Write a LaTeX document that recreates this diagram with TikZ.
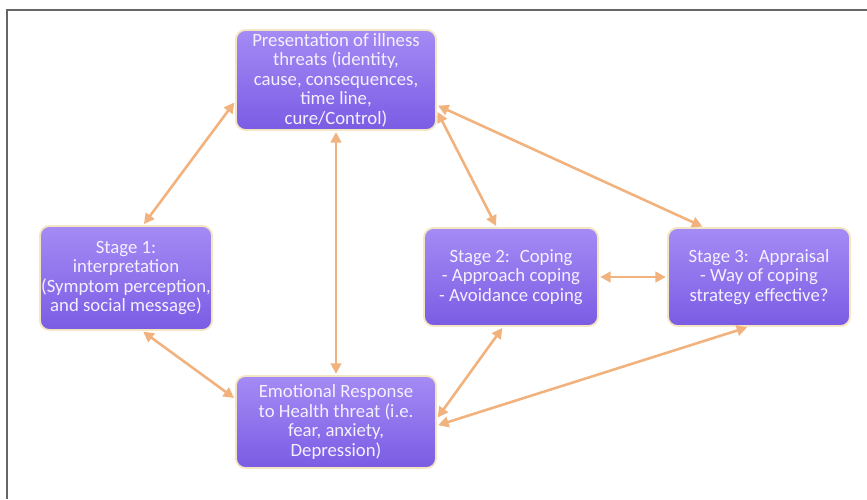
\documentclass[tikz,border=0pt]{standalone}
\usepackage{fontspec}
\setmainfont{Carlito}
\usetikzlibrary{arrows.meta}
\definecolor{boxtop}{HTML}{A48BF4}
\definecolor{boxbot}{HTML}{7A5CE4}
\definecolor{glow}{HTML}{F4E6C2}
\definecolor{link}{HTML}{F2B27E}
\definecolor{label}{HTML}{F3F0FF}
\begin{document}
\begin{tikzpicture}[x=0.03cm,y=-0.03cm,
    stagebox/.style={rectangle,rounded corners=8pt,draw=glow,line width=1.6pt,
      top color=boxtop,bottom color=boxbot,text=label,align=center,inner sep=0pt,
      font=\fontsize{16}{16.6}\selectfont},
    link/.style={{Triangle[length=9pt,width=9pt]}-{Triangle[length=9pt,width=9pt]},
      draw=link,line width=2.2pt,shorten <=1pt,shorten >=1pt}]
      \useasboundingbox (0,0) rectangle (867,499);
      \draw[gray!80!black,line width=1.2pt] (7,499) -- (7,10) -- (867,10);
      \draw
        (336,80) node[stagebox,minimum width=6cm,minimum height=3cm] (pres)
          {Presentation of illness\\threats (identity,\\cause, consequences,\\time line,\\cure/Control)}
        (126,278) node[stagebox,minimum width=5.16cm,minimum height=3.12cm] (st1)
          {Stage 1:\\interpretation\\(Symptom perception,\\and social message)}
        (336,422) node[stagebox,minimum width=6cm,minimum height=2.76cm] (emo)
          {Emotional Response\\to Health threat (i.e.\\fear, anxiety,\\Depression)}
        (511,277) node[stagebox,minimum width=5.22cm,minimum height=2.94cm] (st2)
          {Stage 2:~ Coping\\- Approach coping\\- Avoidance coping}
        (759,277) node[stagebox,minimum width=5.46cm,minimum height=2.94cm] (st3)
          {Stage 3:~ Appraisal\\- Way of coping\\strategy effective?};
      \begin{scope}[link]
        \draw (pres.192) to (st1.72);
        \draw (st1.287) to (emo.167);
        \draw (pres.south) to (emo.north);
        \draw (pres.343) to (st2.106);
        \draw (pres.346) to (st3.138);
        \draw (st2.east) to (st3.west);
        \draw (emo.2) to (st2.261);
        \draw (emo.-2) to (st3.258);
      \end{scope}
    \end{tikzpicture}
\end{document}
